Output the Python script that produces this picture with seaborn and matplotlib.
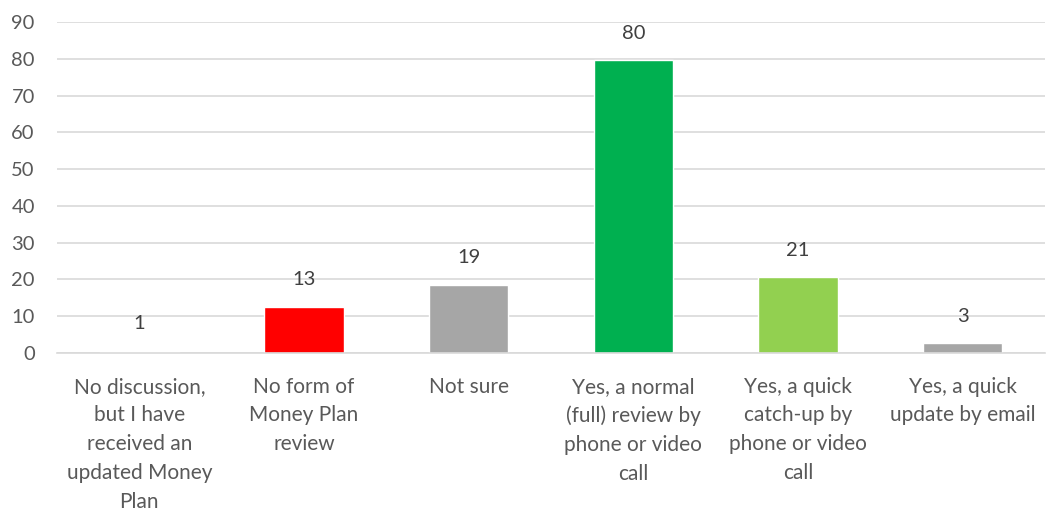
import matplotlib
matplotlib.use("Agg")
import matplotlib.pyplot as plt
import seaborn as sns
import pandas as pd

categories = [
    "No discussion,\nbut I have\nreceived an\nupdated Money\nPlan",
    "No form of\nMoney Plan\nreview",
    "Not sure",
    "Yes, a normal\n(full) review by\nphone or video\ncall",
    "Yes, a quick\ncatch-up by\nphone or video\ncall",
    "Yes, a quick\nupdate by email",
]
values = [0.6, 12.6, 18.6, 79.6, 20.6, 2.6]
colors = ["#FFFFFF", "#FF0000", "#A6A6A6", "#00B050", "#92D050", "#A6A6A6"]
y_ticks = [0, 10, 20, 30, 40, 50, 60, 70, 80, 90]

sns.set_theme(style="white")
plt.rcParams["font.family"] = ["Lato", "DejaVu Sans"]

df = pd.DataFrame({"category": categories, "value": values})

fig = plt.figure(figsize=(10.46, 5.13), dpi=100)
ax = fig.add_axes([57 / 1046, (513 - 353) / 513, (1045 - 57) / 1046, (353 - 22) / 513])

sns.barplot(data=df, x="category", y="value", hue="category",
            palette=colors, width=0.48, legend=False, ax=ax, saturation=1)

ax.set_ylim(0, 90)
ax.set_xlim(-0.5, len(categories) - 0.5)
ax.set_yticks(y_ticks)
ax.yaxis.grid(True, color="#D9D9D9", linewidth=1.2)
ax.set_axisbelow(True)
ax.set_xlabel("")
ax.set_ylabel("")

for s in ["top", "right", "left"]:
    ax.spines[s].set_visible(False)
ax.spines["bottom"].set_color("#D9D9D9")
ax.spines["bottom"].set_linewidth(1.2)

ax.tick_params(axis="y", length=0, labelsize=14.5, labelcolor="#595959", pad=16)
ax.tick_params(axis="x", length=0, labelsize=15, labelcolor="#595959", pad=17)
for lbl in ax.get_xticklabels():
    lbl.set_linespacing(1.55)

# category boundary ticks under the axis
ax.set_xticks([i + 0.5 for i in range(-1, len(categories))], minor=True)
ax.tick_params(axis="x", which="minor", length=7, width=1.2, color="#D9D9D9", direction="out")

for i, v in enumerate(values):
    ax.text(i, v + 7.3, f"{v:.0f}", ha="center", va="center", fontsize=14.5, color="#404040")

fig.savefig("out.png", dpi=100)
